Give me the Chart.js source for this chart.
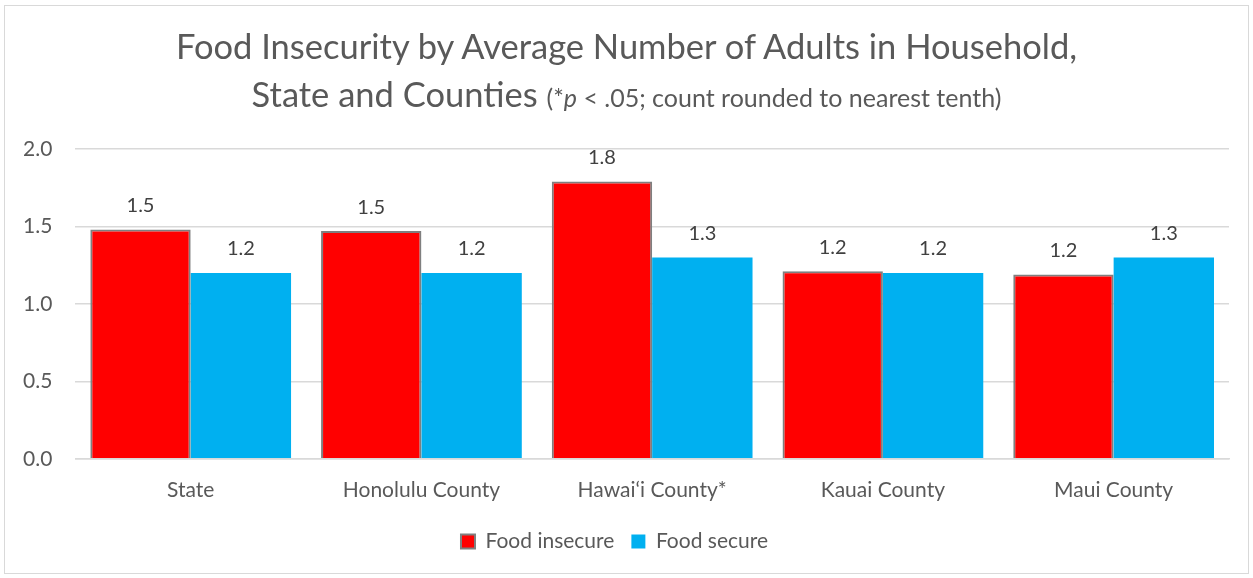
<!DOCTYPE html>
<html>
<head>
<meta charset="utf-8">
<script src="https://cdn.jsdelivr.net/npm/chart.js@4.4.1/dist/chart.umd.min.js"></script>
<style>
  html, body { margin: 0; padding: 0; background: #fff; }
  #frame { position: absolute; left: 4px; top: 5px; width: 1245px; height: 569px; border: 1px solid #d9d9d9; box-sizing: border-box; }
  #title { position: absolute; left: 0; top: 22px; width: 1253px; text-align: center; color: #595959; font-family: Lato, "Open Sans", sans-serif; font-size: 34.5px; line-height: 48px; }
  #title small { font-size: 25px; }
  #wrap { position: absolute; left: 0; top: 0; width: 1253px; height: 578px; }
</style>
</head>
<body>
<div id="frame"></div>
<div id="wrap"><canvas id="chart"></canvas></div>
<div id="title">Food Insecurity by Average Number of Adults in Household,<br>State and Counties <small>(*<i>p</i> &lt; .05; count rounded to nearest tenth)</small></div>
<script>
// data
const categories = ['State', 'Honolulu County', 'Hawai\u2018i County*', 'Kauai County', 'Maui County'];
const insecure = [1.48, 1.47, 1.79, 1.21, 1.19];
const secure = [1.20, 1.20, 1.30, 1.20, 1.30];
const yTicks = [0, 0.5, 1.0, 1.5, 2.0];

const textColor = '#595959';
const fontFamily = 'Lato, "Open Sans", sans-serif';

// value labels above each bar
const barLabels = {
    id: 'barLabels',
    afterDatasetsDraw(chart) {
        const ctx = chart.ctx;
        ctx.save();
        ctx.font = '20px ' + fontFamily;
        ctx.fillStyle = '#404040';
        ctx.textAlign = 'center';
        ctx.textBaseline = 'middle';
        chart.data.datasets.forEach((ds, i) => {
            chart.getDatasetMeta(i).data.forEach((bar, j) => {
                ctx.fillText(ds.data[j].toFixed(1), bar.x, bar.y - 24);
            });
        });
        ctx.restore();
    }
};

new Chart(document.getElementById('chart'), {
    type: 'bar',
    data: {
        labels: categories,
        datasets: [
            { label: 'Food insecure', data: insecure, backgroundColor: '#ff0000', borderColor: '#7f7f7f', borderWidth: 2 },
            { label: 'Food secure', data: secure, backgroundColor: '#00b0f0', borderWidth: 0 }
        ]
    },
    options: {
        responsive: true,
        maintainAspectRatio: false,
        animation: false,
        devicePixelRatio: 1,
        layout: { padding: { top: 149, left: 0, right: 24, bottom: 16 } },
        datasets: { bar: { categoryPercentage: 0.87, barPercentage: 1.0 } },
        plugins: {
            legend: {
                position: 'bottom',
                labels: { boxWidth: 14, boxHeight: 14, padding: 17, color: textColor, font: { family: fontFamily, size: 21 } }
            },
            tooltip: { enabled: false }
        },
        scales: {
            x: {
                grid: { display: false },
                border: { color: '#d9d9d9', width: 1.5 },
                ticks: { color: textColor, padding: 11, font: { family: fontFamily, size: 21 } }
            },
            y: {
                min: 0, max: 2,
                afterBuildTicks: axis => { axis.ticks = yTicks.map(v => ({ value: v })); },
                grid: { color: '#d9d9d9', lineWidth: 1.5, drawTicks: false },
                border: { display: false },
                ticks: { color: textColor, padding: 23, font: { family: fontFamily, size: 21 }, callback: v => v.toFixed(1) }
            }
        }
    },
    plugins: [barLabels]
});
</script>
</body>
</html>
